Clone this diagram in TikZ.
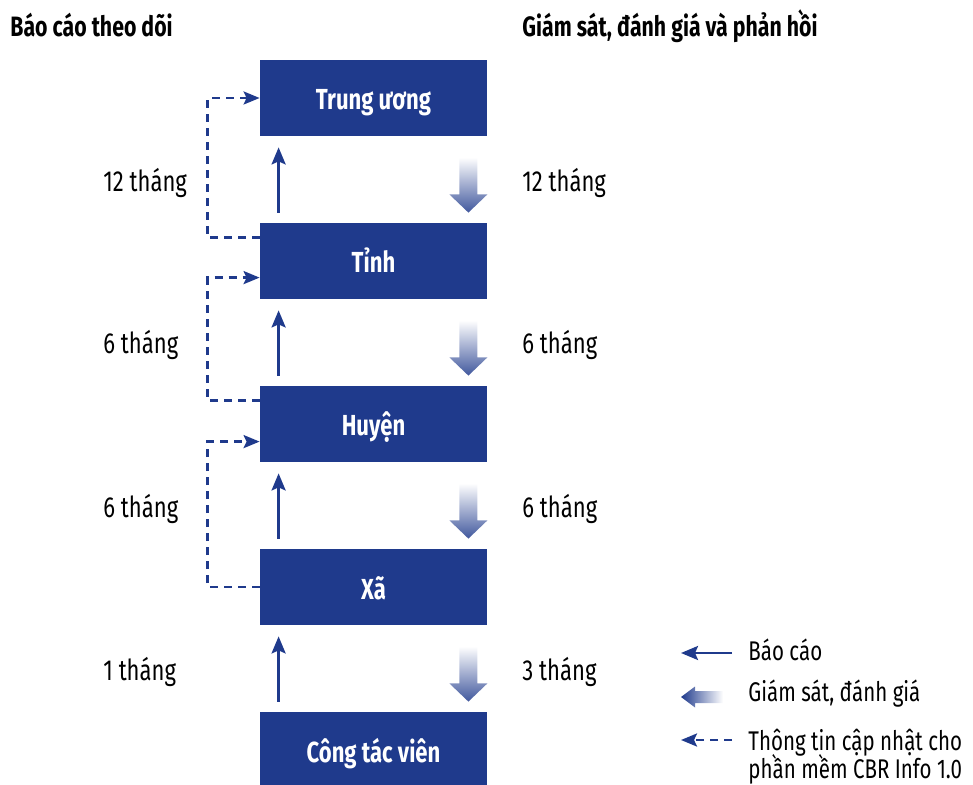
\documentclass[tikz,border=0pt]{standalone}
\usepackage{fontspec}
\setmainfont[FakeStretch=0.76]{Fira Sans}
\usetikzlibrary{positioning,arrows.meta}
\definecolor{cbrblue}{RGB}{31,58,140}
\newcommand\tightlines{\lineskiplimit-20pt\relax}
\begin{document}
\begin{tikzpicture}[x=0.5pt, y=0.5pt, node distance={81.5pt},
  box/.style = {fill=cbrblue, text=white, minimum width=113.5pt, minimum height=38pt, inner sep=0pt, text height=12pt, text depth=0pt, font=\fontsize{14.5}{18}\selectfont\bfseries},
  lbl/.style = {anchor=base west, inner sep=0pt, font=\fontsize{14.5}{14}\selectfont},
  leg/.style = {inner sep=0pt, font=\fontsize{13.5}{14}\selectfont\tightlines},
  head/.style = {anchor=base west, inner sep=0pt, font=\fontsize{14}{17}\selectfont\bfseries},
  report/.style = {draw=cbrblue, line width=1.3pt, -{Stealth[length=8.5pt,width=7pt,inset=1.5pt]}},
  update/.style = {draw=cbrblue, line width=1.3pt, dash pattern=on 4pt off 3pt, -{Stealth[length=8pt,width=6.5pt,inset=1.5pt]}},
  fat/.style = {top color=white, bottom color=cbrblue!85}]
\useasboundingbox (0,0) rectangle (973,-785);
\node[head] (h1) at (10,-37) {Báo cáo theo dõi};
\node[head] (h2) at (522,-37) {Giám sát, đánh giá và phản hồi};

\node[box] (tw) at (373.5,-98) {Trung ương};
\node[box] (tinh) [below of=tw] {Tỉnh};
\node[box] (huyen) [below of=tinh] {Huyện};
\node[box] (xa) [below of=huyen] {Xã};
\node[box] (ctv) [below of=xa] {Công tác viên};

\node[lbl] (l1) at (103,-192) {12 tháng};
\node[lbl] (l2) at (103,-354) {6 tháng};
\node[lbl] (l3) at (103,-517) {6 tháng};
\node[lbl] (l4) at (103,-680) {1 tháng};
\node[lbl] (r1) at (522,-192) {12 tháng};
\node[lbl] (r2) at (522,-354) {6 tháng};
\node[lbl] (r3) at (522,-517) {6 tháng};
\node[lbl] (r4) at (522,-680) {3 tháng};

\foreach \lo/\hi in {tinh/tw, huyen/tinh, xa/huyen, ctv/xa} {
  \draw[report] ([xshift=9.5pt,yshift=5pt]\lo.north west) -- ([xshift=9.5pt,yshift=-5.5pt]\hi.south west);
  \shade[fat] ([shift={(-14pt,-10.5pt)}]\hi.south east) -- ([shift={(-5pt,-10.5pt)}]\hi.south east)
    -- ([shift={(-5pt,-29pt)}]\hi.south east) -- ([shift={(0pt,-29pt)}]\hi.south east)
    -- ([shift={(-9.5pt,5pt)}]\lo.north east) -- ([shift={(-19pt,-29pt)}]\hi.south east)
    -- ([shift={(-14pt,-29pt)}]\hi.south east) -- cycle;
}

\draw[update] ([yshift=-7.5pt]tinh.north west) -- ++(-26pt,0) |- (tw.west);
\draw[update] ([yshift=-7.5pt]huyen.north west) -- ++(-26pt,0) |- ([yshift=-27.5pt]tinh.north west);
\draw[update] (xa.west) -- ++(-26pt,0) |- ([yshift=-28pt]huyen.north west);

\node[leg, anchor=west] (lg1) at (748,-650) {Báo cáo};
\node[leg, anchor=west] (lg2) at (748,-694) {Giám sát, đánh giá};
\node[leg, anchor=north west, align=left] (lg3) at (748,-729) {Thông tin cập nhật cho\\phần mềm CBR Info 1.0};

\draw[report] ([shift={(-8pt,-1.5pt)}]lg1.west) -- ++(-25.5pt,0);
\shade[left color=cbrblue, right color=white] ([shift={(-12.5pt,1.5pt)}]lg2.west) -- ([shift={(-26.5pt,1.5pt)}]lg2.west)
  -- ([shift={(-26.5pt,3.75pt)}]lg2.west) -- ([shift={(-33.5pt,-1.5pt)}]lg2.west)
  -- ([shift={(-26.5pt,-6.75pt)}]lg2.west) -- ([shift={(-26.5pt,-4.5pt)}]lg2.west)
  -- ([shift={(-12.5pt,-4.5pt)}]lg2.west) -- cycle;
\draw[update] ([shift={(-8pt,-5.5pt)}]lg3.north west) -- ++(-25.5pt,0);
\end{tikzpicture}
\end{document}
